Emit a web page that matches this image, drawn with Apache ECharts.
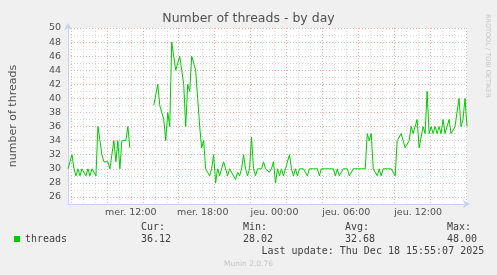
<!DOCTYPE html>
<html><head><meta charset="utf-8">
<script src="https://cdn.jsdelivr.net/npm/echarts@6/dist/echarts.min.js"></script>
<style>html,body{margin:0;padding:0;background:#f0f0f0}#c{width:497px;height:275px}</style>
</head><body><div id="c"></div>
<script>
const titleText = 'Number of threads - by day';
const yAxisName = 'number of threads';
const seriesName = 'threads';
const dayNames = ['dim.', 'lun.', 'mar.', 'mer.', 'jeu.', 'ven.', 'sam.'];
const startTime = new Date(2025, 11, 17, 6, 45).getTime();
const endTime = startTime + 400 * 5 * 60000;
const stepMinutes = 10;
const threads = [
  30, 30, 32, 30, 29, 30, 29, 30, 30, 29,
  30, 29, 30, 30, 29, 36, 36, 32, 31, 31,
  31, 30, 30, 34, 31, 34, 30, 34, 34, 34,
  36, 33, null, null, null, null, null, null, null, null,
  null, null, null, 39, 39, 42, 39, 39, 37, 34,
  38, 36, 48, 48, 44, 44, 46, 44, 42, 36,
  42, 41, 46, 45, 44, 40, 36, 33, 34, 30,
  30, 29, 30, 32, 28, 30, 29, 29, 31, 30,
  29, 30, 30, 29, 28.5, 29.5, 29, 30, 32, 30,
  29, 30, 34.5, 30, 29, 30, 30, 30, 31, 30,
  30, 29.5, 30, 31, 28, 30, 29, 30, 29, 30,
  30, 32, 30, 29, 30, 29, 30, 30, 30, 30,
  29, 30, 30, 30, 30, 30, 29, 30, 30, 30,
  30, 30, 30, 30, 29, 30, 29, 29, 30, 30,
  30, 29, 29, 30, 30, 30, 30, 30, 30, 30,
  35, 34, 35, 30, 30, 29, 30, 29, 30, 30,
  30, 30, 30, 30, 29, 34, 34, 35, 34, 33,
  33, 34, 36, 35, 35, 37, 33, 33, 36, 35,
  41, 35, 36, 35, 36, 35, 36, 35, 37, 35,
  36, 37, 35, 35, 36, 36, 40, 36, 37, 40,
  36
];
const statLabels = ['Cur:', 'Min:', 'Avg:', 'Max:'];
const statValues = ['36.12', '28.02', '32.68', '48.00'];
const lastUpdate = 'Last update: Thu Dec 18 15:55:07 2025';
const footerText = 'Munin 2.0.76';
const watermark = 'RRDTOOL / TOBI OETIKER';
const yMin = 25, yMax = 50, yStep = 1;

const seriesData = threads.map((v, i) => [startTime + i * stepMinutes * 60000, v]);

const mono = '"DejaVu Sans Mono", monospace';
const sans = '"DejaVu Sans", sans-serif';
const statX = [141, 243, 345, 447];
const graphics = [];
statLabels.forEach((t, i) => {
  graphics.push({type: 'text', x: statX[i], y: 227.5, style: {text: t, fill: '#404040', font: '10px ' + mono, align: 'left', verticalAlign: 'middle'}});
  graphics.push({type: 'text', x: statX[i], y: 239.5, style: {text: statValues[i], fill: '#404040', font: '10px ' + mono, align: 'left', verticalAlign: 'middle'}});
});
graphics.push({type: 'text', x: 261.5, y: 251.5, style: {text: lastUpdate, fill: '#404040', font: '10px ' + mono, align: 'left', verticalAlign: 'middle'}});
graphics.push({type: 'text', x: 248.5, y: 264, style: {text: footerText, fill: '#c4c4c4', font: '7.5px ' + sans, align: 'center', verticalAlign: 'middle'}});
graphics.push({type: 'text', x: 487.5, y: 14, rotation: -Math.PI / 2, style: {text: watermark, fill: '#c4c4c4', font: '6.5px ' + sans, align: 'left', verticalAlign: 'middle'}});

const chart = echarts.init(document.getElementById('c'), null, {renderer: 'canvas'});
chart.setOption({
  animation: false,
  backgroundColor: '#f0f0f0',
  title: {text: titleText, left: 'center', top: 12, padding: 0,
    textStyle: {fontSize: 12.5, fontWeight: 'normal', color: '#505050', fontFamily: sans}},
  grid: {left: 67, top: 28, width: 400, height: 176, show: true, backgroundColor: '#ffffff', borderWidth: 0},
  legend: {data: [seriesName], left: 14, top: 234, icon: 'rect', itemWidth: 6, itemHeight: 6, padding: 0,
    textStyle: {fontFamily: mono, fontSize: 10, color: '#404040'}},
  graphic: graphics,
  xAxis: {
    type: 'time', min: startTime, max: endTime,
    minInterval: 3600000, maxInterval: 3600000,
    axisLine: {show: true, lineStyle: {color: '#c8d0f4'}, symbol: ['none', 'arrow'], symbolSize: [6, 7], symbolOffset: [0, 3]},
    axisTick: {show: false},
    axisLabel: {
      fontFamily: sans, fontSize: 9.5, color: '#505050', margin: 4, hideOverlap: false,
      showMinLabel: false, showMaxLabel: false,
      formatter: function (val) {
        const d = new Date(val);
        if (d.getMinutes() !== 0 || d.getHours() % 6 !== 0) return '';
        const hh = String(d.getHours()).padStart(2, '0');
        return dayNames[d.getDay()] + ' ' + hh + ':00';
      }
    },
    splitLine: {show: true, showMinLine: false, showMaxLine: false,
      lineStyle: {color: ['#e8b4b4', '#dcdcdc', '#dcdcdc'], type: [1, 2], width: 1}}
  },
  yAxis: {
    type: 'value', min: yMin, max: yMax, interval: yStep,
    name: yAxisName, nameLocation: 'middle', nameGap: 49, nameRotate: 90,
    nameTextStyle: {fontFamily: sans, fontSize: 11, color: '#505050'},
    axisLine: {show: true, lineStyle: {color: '#c8d0f4'}, symbol: ['none', 'arrow'], symbolSize: [6, 7], symbolOffset: [0, 5]},
    axisTick: {show: false},
    axisLabel: {fontFamily: sans, fontSize: 9.5, color: '#505050', margin: 7,
      formatter: v => (v % 2 === 0 ? String(v) : '')},
    splitLine: {show: true, lineStyle: {color: ['#dcdcdc', '#e8b4b4'], type: [1, 2], width: 1}}
  },
  series: [{
    name: seriesName, type: 'line', data: seriesData, showSymbol: false, symbol: 'none',
    connectNulls: false, color: '#00cc00', lineStyle: {width: 1, color: '#00cc00'}
  }]
});
</script></body></html>
